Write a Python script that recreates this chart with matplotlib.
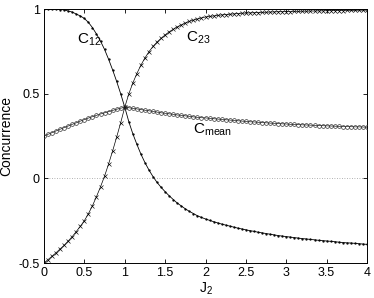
import matplotlib
matplotlib.use("Agg")
import matplotlib.pyplot as plt

J2 = [0.00, 0.05, 0.10, 0.15, 0.20, 0.25, 0.30, 0.35, 0.40, 0.45,
      0.50, 0.55, 0.60, 0.65, 0.70, 0.75, 0.80, 0.85, 0.90, 0.95,
      1.00, 1.05, 1.10, 1.15, 1.20, 1.25, 1.30, 1.35, 1.40, 1.45,
      1.50, 1.55, 1.60, 1.65, 1.70, 1.75, 1.80, 1.85, 1.90, 1.95,
      2.00, 2.05, 2.10, 2.15, 2.20, 2.25, 2.30, 2.35, 2.40, 2.45,
      2.50, 2.55, 2.60, 2.65, 2.70, 2.75, 2.80, 2.85, 2.90, 2.95,
      3.00, 3.05, 3.10, 3.15, 3.20, 3.25, 3.30, 3.35, 3.40, 3.45,
      3.50, 3.55, 3.60, 3.65, 3.70, 3.75, 3.80, 3.85, 3.90, 3.95, 4.00]

C12 = [1.000, 1.000, 1.000, 0.999, 0.997, 0.995, 0.988, 0.982, 0.970, 0.959,
       0.944, 0.921, 0.890, 0.852, 0.810, 0.761, 0.703, 0.640, 0.572, 0.499,
       0.420, 0.335, 0.263, 0.201, 0.143, 0.093, 0.049, 0.010, -0.024, -0.053,
       -0.079, -0.103, -0.125, -0.146, -0.163, -0.180, -0.195, -0.208, -0.221, -0.231,
       -0.240, -0.248, -0.256, -0.263, -0.270, -0.276, -0.282, -0.288, -0.294, -0.299,
       -0.304, -0.309, -0.313, -0.318, -0.322, -0.326, -0.330, -0.334, -0.338, -0.341,
       -0.344, -0.347, -0.350, -0.353, -0.356, -0.358, -0.361, -0.363, -0.366, -0.368,
       -0.370, -0.372, -0.374, -0.377, -0.379, -0.381, -0.382, -0.384, -0.386, -0.388, -0.390]

C23 = [-0.500, -0.480, -0.460, -0.439, -0.417, -0.395, -0.370, -0.344, -0.314, -0.283,
       -0.250, -0.209, -0.162, -0.108, -0.050, 0.013, 0.085, 0.162, 0.244, 0.329,
       0.420, 0.498, 0.563, 0.619, 0.668, 0.711, 0.748, 0.779, 0.805, 0.827,
       0.847, 0.865, 0.880, 0.894, 0.906, 0.917, 0.927, 0.934, 0.941, 0.947,
       0.953, 0.956, 0.959, 0.962, 0.965, 0.967, 0.969, 0.971, 0.973, 0.975,
       0.976, 0.977, 0.978, 0.979, 0.980, 0.981, 0.982, 0.983, 0.984, 0.984,
       0.985, 0.985, 0.986, 0.986, 0.987, 0.987, 0.988, 0.988, 0.989, 0.989,
       0.990, 0.990, 0.991, 0.991, 0.991, 0.992, 0.992, 0.992, 0.993, 0.993, 0.993]

Cmean = [0.250, 0.260, 0.270, 0.280, 0.290, 0.300, 0.309, 0.319, 0.328, 0.338,
         0.347, 0.356, 0.364, 0.372, 0.380, 0.387, 0.394, 0.401, 0.408, 0.414,
         0.420, 0.417, 0.413, 0.410, 0.406, 0.402, 0.399, 0.395, 0.391, 0.387,
         0.384, 0.381, 0.378, 0.374, 0.372, 0.369, 0.366, 0.363, 0.360, 0.358,
         0.357, 0.354, 0.352, 0.350, 0.348, 0.346, 0.344, 0.342, 0.340, 0.338,
         0.336, 0.334, 0.333, 0.331, 0.329, 0.328, 0.326, 0.325, 0.323, 0.322,
         0.321, 0.319, 0.318, 0.317, 0.316, 0.315, 0.314, 0.313, 0.312, 0.311,
         0.310, 0.309, 0.308, 0.307, 0.306, 0.306, 0.305, 0.304, 0.304, 0.303, 0.302]

xticks = [0, 0.5, 1, 1.5, 2, 2.5, 3, 3.5, 4]
xticklabels = ["0", "0.5", "1", "1.5", "2", "2.5", "3", "3.5", "4"]
yticks = [-0.5, 0, 0.5, 1]
yticklabels = ["-0.5", "0", "0.5", "1"]

plt.rcParams["font.family"] = ["Liberation Sans", "DejaVu Sans"]
plt.rcParams["mathtext.default"] = "regular"
plt.rcParams["axes.unicode_minus"] = False

W, H = 374, 298
fig = plt.figure(figsize=(W / 100, H / 100), dpi=100)
ax = fig.add_axes([44 / W, (H - 263) / H, 323 / W, 254 / H])

ax.axhline(0, color="#999999", lw=0.6, ls=(0, (1, 2)), zorder=1)

ax.plot(J2, C12, color="black", lw=0.6, marker=".", ms=1.3, zorder=3)
ax.plot(J2, C23, color="black", lw=0.5, marker="x", ms=2.6, mew=0.45, zorder=3)
ax.plot(J2, Cmean, color="#222222", lw=0.5, marker="o", ms=2.7, mew=0.5,
        mfc="none", mec="#333333", zorder=3)

ax.set_xlim(0, 4)
ax.set_ylim(-0.5, 1)
ax.set_xticks(xticks)
ax.set_xticklabels(xticklabels)
ax.set_yticks(yticks)
ax.set_yticklabels(yticklabels)
ax.tick_params(direction="in", length=3, width=0.6, labelsize=9,
               top=True, right=True, pad=3)
for s in ax.spines.values():
    s.set_linewidth(0.7)

ax.set_xlabel("J$_2$", fontsize=10, labelpad=1)
ax.set_ylabel("Concurrence", fontsize=10, labelpad=4)

ax.text(0.41, 0.82, "C$_{12}$", fontsize=11, ha="left", va="center")
ax.text(1.76, 0.83, "C$_{23}$", fontsize=11, ha="left", va="center")
ax.text(1.85, 0.285, "C$_{mean}$", fontsize=11, ha="left", va="center")

fig.savefig("out.png", dpi=100)
